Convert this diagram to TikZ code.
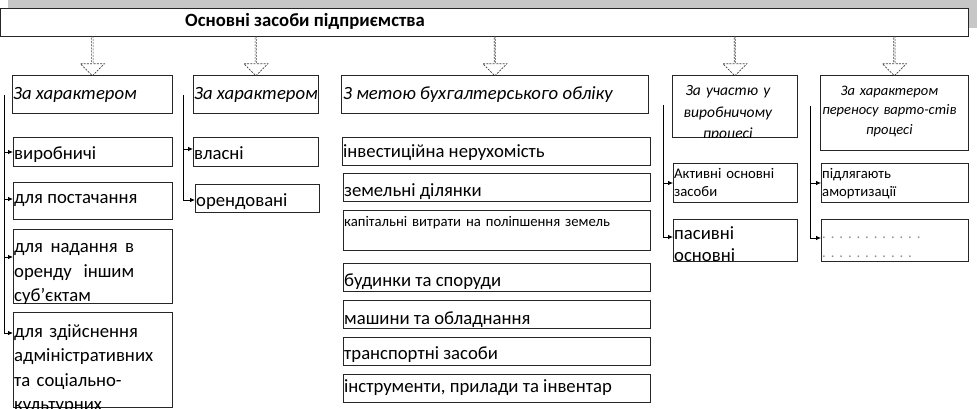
\documentclass[tikz,border=0pt]{standalone}
\usepackage{fontspec}
\setmainfont{Carlito}
\usetikzlibrary{shapes.arrows,arrows.meta,calc}

\begin{document}
\begin{tikzpicture}[x=1pt, y=-1pt,
ramka/.style={draw=black!85, line width=0.75pt, anchor=north west, inner sep=0pt},
napys/.style={anchor=base west, inner sep=0pt, align=left, font=\fontsize{18.7}{24.5}\selectfont},
kursyv/.style={napys, font=\fontsize{18.7}{24.5}\selectfont\itshape},
dribnyj/.style={napys, text width=140pt, font=\fontsize{14.7}{18}\selectfont},
blok/.style={single arrow, draw=black!75, line width=0.6pt, dash pattern=on 2pt off 1.2pt,
  rotate=-90, inner sep=0pt, minimum width=24pt, single arrow head extend=5pt, minimum height=39pt},
strilka/.style={-{Latex[length=5pt,width=4.5pt]}, line width=0.75pt},
liniya/.style={line width=0.75pt}]
\clip (0,0) rectangle (977,409);
\fill[black!22] (8,0) rectangle (977,28); % tin
\node[ramka, fill=white, minimum width=967pt, minimum height=28pt] (golovna) at (0.5,8) {};
\node[napys, font=\fontsize{18.7}{24.5}\selectfont\bfseries] (nazva) at (185,27) {Основні засоби підприємства};

% oznaky
\node[ramka, minimum width=160pt, minimum height=38pt] (h1) at (12,75) {};
\node[ramka, minimum width=125pt, minimum height=38pt] (h2) at (193,75) {};
\node[ramka, minimum width=307pt, minimum height=38pt] (h3) at (341,75) {};
\node[ramka, minimum width=125pt, minimum height=62pt] (h4) at (672,75) {};
\node[ramka, minimum width=148pt, minimum height=75pt] (h5) at (820,75) {};
\node[kursyv] at ([shift={(1,25)}]h1.north west) {За характером};
\node[kursyv] at ([shift={(1,25)}]h2.north west) {За характером};
\node[kursyv] at ([shift={(2,25)}]h3.north west) {З метою бухгалтерського обліку};
\begin{scope}
\clip (h4.north west) rectangle (h4.south east);
\node[kursyv, font=\fontsize{15.5}{21.5}\selectfont\itshape, align=center, text width=120pt, anchor=base]
  at ([shift={(-7,21)}]h4.north) {За участю у\\виробничому\\процесі};
\end{scope}
\begin{scope}
\clip (h5.north west) rectangle (h5.south east);
\node[kursyv, font=\fontsize{14.5}{19.5}\selectfont\itshape, align=center, text width=148pt, anchor=base]
  at ([shift={(-5,20.5)}]h5.north) {За характером\\переносу варто-стів\\процесі};
\end{scope}

% shtrykhovi strilky
\foreach \h in {h1,h2,h3,h4,h5}
  \node[blok] (s\h) at ($(\h.north)!.5!(\h.north |- golovna.south)$) {};

% stovpets 1
\node[ramka, minimum width=159pt, minimum height=29pt] (vyrob) at (13,137) {};
\node[ramka, minimum width=159pt, minimum height=37pt] (postach) at (13,182) {};
\node[ramka, minimum width=159pt, minimum height=74pt] (orenda) at (13,229) {};
\node[ramka, minimum width=159pt, minimum height=95pt] (admin) at (13,312) {};
\node[napys] at ([shift={(1,22.5)}]vyrob.north west) {виробничі};
\node[napys] at ([shift={(1,21.5)}]postach.north west) {для постачання};
\begin{scope}
\clip (orenda.north west) rectangle (orenda.south east);
\node[napys, text width=120pt] at ([shift={(1,23.5)}]orenda.north west)
  {для\hfill надання\hfill в\\оренду\hfill іншим\\суб’єктам};
\end{scope}
\node[napys, text width=150pt] at ([shift={(1,25)}]admin.north west)
  {для здійснення\\адміністративних\\та соціально-\\культурних};

% stovpets 2
\node[ramka, minimum width=125pt, minimum height=29pt] (vlasni) at (193,137) {};
\node[ramka, minimum width=124pt, minimum height=28pt] (orend) at (195,184) {};
\node[napys] at ([shift={(1,22.5)}]vlasni.north west) {власні};
\node[napys] at ([shift={(1,22)}]orend.north west) {орендовані};

% stovpets 3
\node[ramka, minimum width=308pt, minimum height=28pt] (invest) at (342,137) {};
\node[ramka, minimum width=307pt, minimum height=28pt] (zemli) at (343,173) {};
\node[ramka, minimum width=307pt, minimum height=40pt] (kapit) at (343,210) {};
\node[napys] at ([shift={(1,20.5)}]invest.north west) {інвестиційна нерухомість};
\node[napys] at ([shift={(1,23.5)}]zemli.north west) {земельні ділянки};
\node[dribnyj, text width=300pt] at ([shift={(1,16.5)}]kapit.north west) {капітальні витрати на поліпшення земель};
\foreach \n/\y/\d/\t in {bud/263/23.5/будинки та споруди, mash/300/24.5/машини та обладнання,
  trans/337/22.5/транспортні засоби, instr/374/18.5/{інструменти, прилади та інвентар}} {
  \node[ramka, minimum width=307pt, minimum height=28pt] (\n) at (343,\y) {};
  \node[napys] at ([shift={(1,\d)}]\n.north west) {\t};
}

% stovpets 4
\node[ramka, minimum width=124pt, minimum height=39pt] (aktyv) at (673,163) {};
\node[ramka, minimum width=124pt, minimum height=42pt] (pasyv) at (673,219) {};
\node[dribnyj, text width=120pt] at ([shift={(1,15.5)}]aktyv.north west) {Активні основні\\засоби};
\begin{scope}
\clip (pasyv.north west) rectangle (pasyv.south east);
\node[napys, text width=120pt, font=\fontsize{18.7}{21.5}\selectfont] at ([shift={(1,20.5)}]pasyv.north west) {пасивні\\основні};
\end{scope}

% stovpets 5
\node[ramka, minimum width=147pt, minimum height=39pt] (amort) at (821,163) {};
\node[ramka, minimum width=147pt, minimum height=42pt] (kraps) at (821,219) {};
\node[dribnyj] at ([shift={(1,15.5)}]amort.north west) {підлягають\\амортизації};
\node[dribnyj, text=black!45, font=\fontsize{14.7}{19}\selectfont\frenchspacing] at ([shift={(1,19)}]kraps.north west)
  {. . . . . . . . . . . .\\. . . . . . . . . . .};

% zviazky
\coordinate (k1) at (4,95);
\coordinate (k2) at (183,95);
\coordinate (k4) at (663,105);
\coordinate (k5) at (810,106);
\draw[liniya] (k1) -- ([yshift=-21pt]admin.north west -| k1);
\draw[liniya] (k2) -- ([yshift=-16pt]orend.north west -| k2);
\draw[liniya] (k4) -- ([yshift=-18pt]pasyv.north west -| k4);
\draw[liniya] (k5) -- ([yshift=-19pt]kraps.north west -| k5);
\foreach \k/\b/\d in {k1/vyrob/15, k1/postach/17, k1/orenda/28, k1/admin/21, k2/vlasni/12, k2/orend/16,
  k4/aktyv/20, k4/pasyv/18, k5/amort/20, k5/kraps/19}
  \draw[strilka] ([yshift=-\d pt]\b.north west -| \k) -- ([yshift=-\d pt]\b.north west);
\end{tikzpicture}
\end{document}
